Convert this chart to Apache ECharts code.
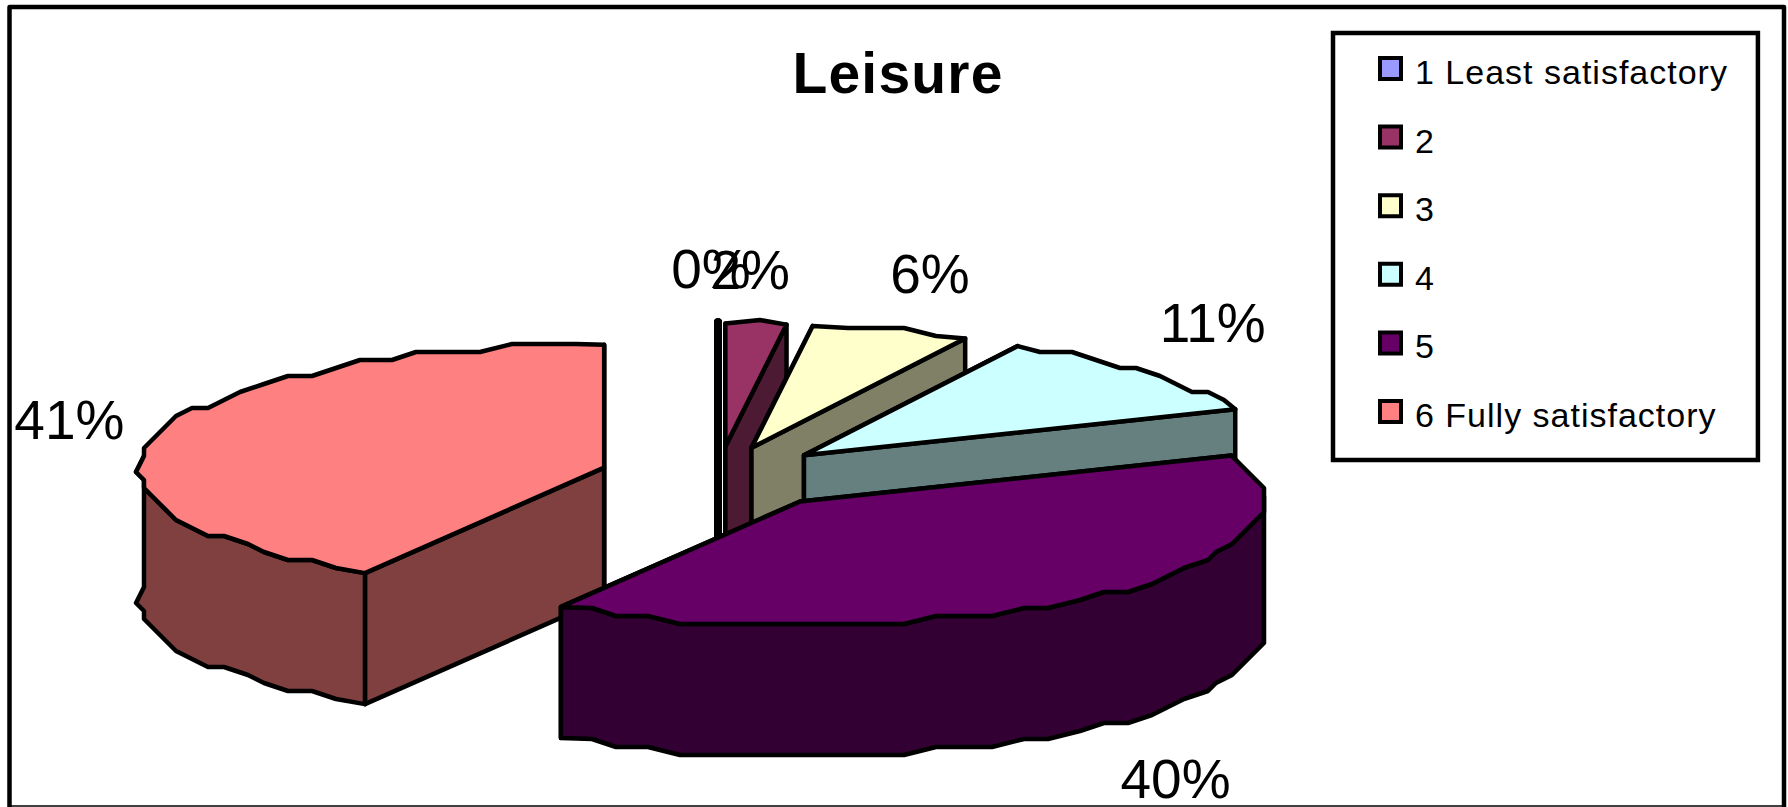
<!DOCTYPE html>
<html>
<head>
<meta charset="utf-8">
<title>Leisure</title>
<script src="https://cdn.jsdelivr.net/npm/echarts@6/dist/echarts.min.js"></script>
<style>
  html, body { margin: 0; padding: 0; background: #fff; }
  #chart { width: 1788px; height: 807px; }
  /* svg text keeps the wide letter spacing of the original */
  text[style*="34px"] { letter-spacing: 1px; }
  text[style*="57px"] { letter-spacing: 1.2px; }
</style>
</head>
<body>
<div id="chart"></div>
<script>
const categories = ['1 Least satisfactory', '2', '3', '4', '5', '6 Fully satisfactory'];
// labels round these
const values = [0, 2.1, 5.5, 11.3, 39.7, 41.4];
const topColors = ['#9999FF', '#993366', '#FFFFCC', '#CCFFFF', '#660066', '#FF8080'];
const sideColors = ['#4D4D80', '#4D1A33', '#808066', '#668080', '#330033', '#804040'];

// pie geometry
const CX = 718, CY = 476;
const RX = 465, RY = 123;
const DEPTH = 131;
const explodeBy = [0.25, 0.24, 0.24, 0.25, 0.272, 0.254];
const GRID = 8;  // the original outline is stair-stepped
const STEP = 4;
const LINE = 4.5;
const FONT = '"Liberation Sans", Arial, sans-serif';

// label placement
const LABEL_KX = 1.2, LABEL_KY = 1.5;
const labelNudge = [[-7, 8], [-12, 8], [11, 2], [-4, -8], [13, 6], [3, 2]];

const total = values.reduce((a, b) => a + b, 0);

function rad(deg) {
  return deg * Math.PI / 180;
}

function pt(ox, oy, deg) {
  const p = [ox + RX * Math.sin(rad(deg)), oy - RY * Math.cos(rad(deg))];
  p.angle = deg;
  return p;
}

function arc(ox, oy, a0, a1) {
  const pts = [pt(ox, oy, a0)];
  const n = Math.max(1, Math.ceil((a1 - a0) / STEP));
  for (let i = 1; i < n; i++) {
    const p = pt(ox, oy, a0 + (a1 - a0) * i / n);
    p[0] = Math.round(p[0] / GRID) * GRID;
    p[1] = Math.round(p[1] / GRID) * GRID;
    pts.push(p);
  }
  pts.push(pt(ox, oy, a1));
  return pts;
}

function down(pts) {
  return pts.map(p => [p[0], p[1] + DEPTH]);
}

function poly(points, fill, width) {
  return {
    type: 'polygon',
    shape: { points: points },
    style: { fill: fill, stroke: '#000', lineWidth: width, lineJoin: 'round' },
    silent: true
  };
}

function renderSlice(idx, params, api) {
  const value = api.value(0);
  let before = 0;
  for (let i = 0; i < idx; i++) before += values[i];
  const a0 = before / total * 360;
  const a1 = (before + value) / total * 360;
  const mid = (a0 + a1) / 2;
  const sin = Math.sin(rad(mid)), cos = Math.cos(rad(mid));
  const ax = CX + explodeBy[idx] * RX * sin;
  const ay = CY - explodeBy[idx] * RY * cos;
  const apex = [ax, ay];
  const side = sideColors[idx];
  // an empty slice still shows as a heavy line
  const width = value === 0 ? 8 : LINE;
  const children = [];

  const pStart = pt(ax, ay, a0);
  const pEnd = pt(ax, ay, a1);
  children.push(poly([apex, pStart].concat(down([pStart, apex])), side, width));
  children.push(poly([apex, pEnd].concat(down([pEnd, apex])), side, width));

  // the outer wall only shows on the front half, it shares the rim points
  const rim = arc(ax, ay, a0, a1);
  const front = rim.filter(p => p.angle >= 85 && p.angle <= 275);
  if (front.length > 1) {
    children.push(poly(front.concat(down(front).reverse()), side, width));
  }
  children.push(poly([apex].concat(rim), topColors[idx], width));

  children.push({
    type: 'text',
    silent: true,
    style: {
      text: Math.round(value / total * 100) + '%',
      x: ax + LABEL_KX * RX * sin + labelNudge[idx][0],
      y: ay - LABEL_KY * RY * cos + (cos < 0 ? DEPTH : 0) + labelNudge[idx][1],
      fill: '#000',
      fontSize: 55,
      fontFamily: FONT,
      align: 'center',
      verticalAlign: 'middle'
    }
  });
  return { type: 'group', children: children };
}

const chart = echarts.init(document.getElementById('chart'), null, { renderer: 'svg' });

const option = {
  animation: false,
  backgroundColor: '#fff',
  title: {
    text: 'Leisure',
    left: 893,
    top: 68,
    textAlign: 'center',
    textVerticalAlign: 'middle',
    textStyle: { fontFamily: FONT, fontSize: 57, fontWeight: 'bold', color: '#000' }
  },
  legend: {
    orient: 'vertical',
    left: 1333,
    top: 33,
    selectedMode: false,
    data: categories,
    icon: 'rect',
    itemWidth: 21,
    itemHeight: 21,
    itemGap: 27.6,
    padding: [15, 50, 28, 45],
    borderColor: '#000',
    borderWidth: LINE,
    itemStyle: { borderColor: '#000', borderWidth: 4 },
    // the text sits a little below the middle of its swatch
    formatter: name => '{t|' + name + '}',
    textStyle: {
      fontFamily: FONT,
      fontSize: 34,
      color: '#000',
      padding: [0, 0, 0, 9],
      rich: {
        t: { fontFamily: FONT, fontSize: 34, lineHeight: 32, color: '#000', padding: [7, 0, 0, 0] }
      }
    }
  },
  graphic: [
    {
      type: 'polyline',
      silent: true,
      shape: { points: [[9.5, 812], [9.5, 7], [1784, 7], [1784, 812]] },
      style: { fill: 'none', stroke: '#000', lineWidth: LINE, lineJoin: 'round' }
    },
    {
      type: 'line',
      silent: true,
      shape: { x1: 8, y1: 806, x2: 1784, y2: 806 },
      style: { stroke: '#000', lineWidth: 1.5 }
    }
  ],
  series: categories.map((name, i) => ({
    type: 'custom',
    name: name,
    coordinateSystem: 'none',
    // slice 5 sits over the corner of slice 6
    z: i === 5 ? 1 : 2,
    itemStyle: { color: topColors[i] },
    data: [values[i]],
    renderItem: (params, api) => renderSlice(i, params, api)
  }))
};

chart.setOption(option);
</script>
</body>
</html>
